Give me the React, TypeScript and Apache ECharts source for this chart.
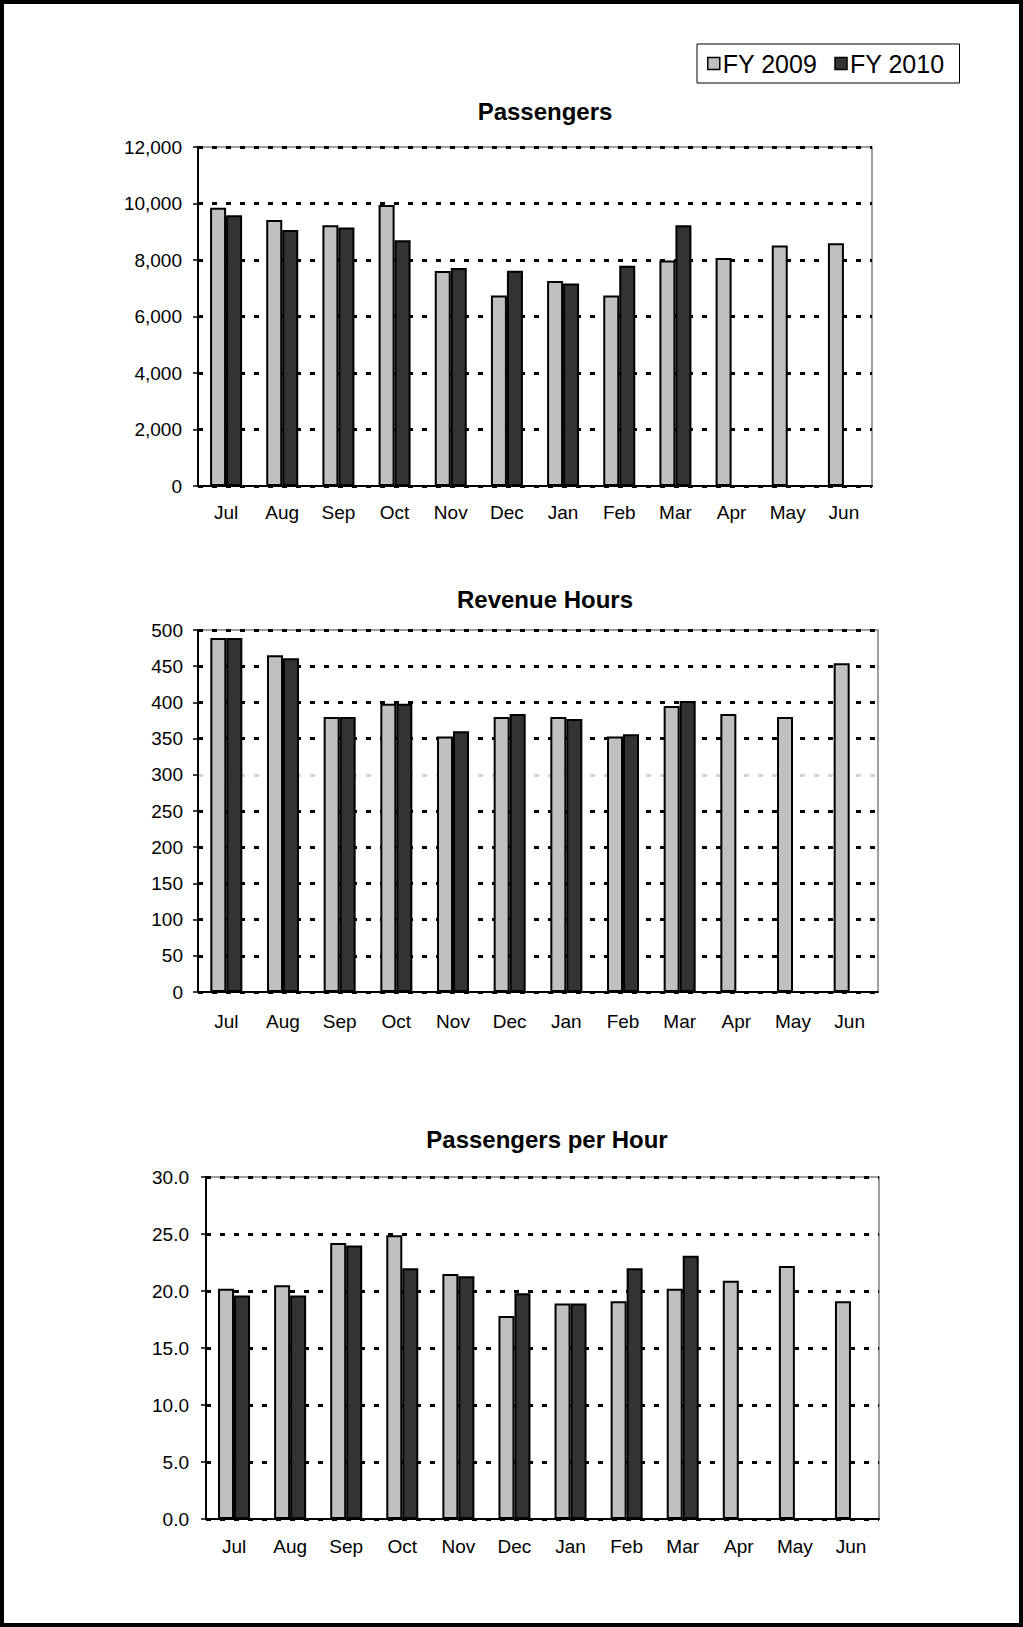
import React, { useEffect, useRef } from "react";
import * as echarts from "echarts";

const months = ["Jul", "Aug", "Sep", "Oct", "Nov", "Dec", "Jan", "Feb", "Mar", "Apr", "May", "Jun"];
const seriesNames = ["FY 2009", "FY 2010"];

const passengers2009 = [9850, 9420, 9230, 9950, 7610, 6740, 7260, 6740, 7980, 8070, 8510, 8590];
const passengers2010 = [9580, 9060, 9150, 8700, 7720, 7620, 7170, 7800, 9230, null, null, null];

const hours2009 = [489, 465, 380, 398, 353, 380, 380, 353, 395, 384, 380, 454];
const hours2010 = [489, 461, 380, 398, 360, 384, 377, 356, 402, null, null, null];

const pph2009 = [20.2, 20.5, 24.2, 24.9, 21.5, 17.8, 18.9, 19.1, 20.2, 20.9, 22.2, 19.1];
const pph2010 = [19.6, 19.6, 24.0, 22.0, 21.3, 19.8, 18.9, 22.0, 23.1, null, null, null];

const chartTitles = ["Passengers", "Revenue Hours", "Passengers per Hour"];

const FONT = "'Liberation Sans', Arial, sans-serif";
const C09 = "#C0C0C0";
const C10 = "#333333";

export default function App() {
  const ref = useRef<HTMLDivElement>(null);

  useEffect(() => {
    if (!ref.current) return;
    const chart = echarts.init(ref.current, undefined, { renderer: "svg" });

    const grids = [
      { left: 198, top: 147, width: 674, height: 339 },
      { left: 198, top: 630, width: 680, height: 362 },
      { left: 206, top: 1177, width: 673, height: 342 },
    ];
    const yCfg = [
      { min: 0, max: 12000, interval: 2000, fmt: (v: number) => v.toLocaleString("en-US"), margin: 16 },
      { min: 0, max: 500, interval: 50, fmt: (v: number) => String(v), margin: 15 },
      { min: 0, max: 30, interval: 5, fmt: (v: number) => v.toFixed(1), margin: 17 },
    ];
    const xMargins = [17, 20, 18];
    const titleTops = [99, 587, 1127];
    const titleLefts = [545, 545, 547];
    const data = [
      [passengers2009, passengers2010],
      [hours2009, hours2010],
      [pph2009, pph2010],
    ];

    const gridLineColors2 = months.slice(0, 11).map((_, i) => (i === 6 ? "#d4d4d4" : "#000"));

    const option: any = {
      animation: false,
      backgroundColor: "#fff",
      textStyle: { fontFamily: FONT },
      title: chartTitles.map((t, i) => ({
        text: t,
        left: titleLefts[i],
        top: titleTops[i],
        textAlign: "center",
        padding: 0,
        textStyle: { fontSize: 24, fontWeight: "bold", color: "#000", fontFamily: FONT },
      })),
      legend: {
        data: seriesNames,
        left: 697,
        top: 44,
        orient: "horizontal",
        itemWidth: 12,
        itemHeight: 12,
        itemGap: 17,
        padding: [7, 15, 7, 10],
        borderColor: "#000",
        borderWidth: 1,
        selectedMode: false,
        icon: "rect",
        itemStyle: { borderColor: "#000", borderWidth: 1.5 },
        textStyle: { fontSize: 25, color: "#000", fontFamily: FONT, padding: [0, 0, 0, -2] },
      },
      grid: grids.map((g) => ({
        ...g,
        show: true,
        borderColor: "#808080",
        borderWidth: 1.5,
        backgroundColor: "transparent",
        containLabel: false,
      })),
      xAxis: grids.map((_, i) => ({
        type: "category",
        gridIndex: i,
        data: months,
        axisLine: { show: true, lineStyle: { color: "#000", width: 2 } },
        axisTick: { show: false },
        axisLabel: { color: "#000", fontSize: 19, fontFamily: FONT, margin: xMargins[i], interval: 0 },
        splitLine: { show: false },
      })),
      yAxis: grids.map((_, i) => ({
        type: "value",
        gridIndex: i,
        min: yCfg[i].min,
        max: yCfg[i].max,
        interval: yCfg[i].interval,
        axisLine: { show: true, lineStyle: { color: "#000", width: 2 } },
        axisTick: { show: true, length: 5, lineStyle: { color: "#000", width: 1.5 } },
        axisLabel: {
          color: "#000",
          fontSize: 19,
          fontFamily: FONT,
          margin: yCfg[i].margin,
          formatter: yCfg[i].fmt,
        },
        splitLine: {
          show: true,
          lineStyle: {
            color: i === 1 ? gridLineColors2 : "#000",
            width: 2.8,
            type: [5, 9],
          },
        },
      })),
      series: data.flatMap((pair, i) =>
        pair.map((vals, j) => ({
          name: seriesNames[j],
          type: "bar",
          xAxisIndex: i,
          yAxisIndex: i,
          data: vals,
          barWidth: 16,
          barGap: "0%",
          itemStyle: { color: j === 0 ? C09 : C10, borderColor: "#000", borderWidth: 2 },
        }))
      ),
    };

    chart.setOption(option);
    return () => chart.dispose();
  }, []);

  return (
    <div style={{ position: "absolute", left: 0, top: 0, width: 1023, height: 1627, background: "#fff" }}>
      <div ref={ref} style={{ position: "absolute", left: 0, top: 0, width: 1023, height: 1627 }} />
      <div
        style={{
          position: "absolute",
          left: 0,
          top: 0,
          width: 1023,
          height: 1627,
          boxSizing: "border-box",
          border: "4px solid #000",
          pointerEvents: "none",
        }}
      />
    </div>
  );
}
